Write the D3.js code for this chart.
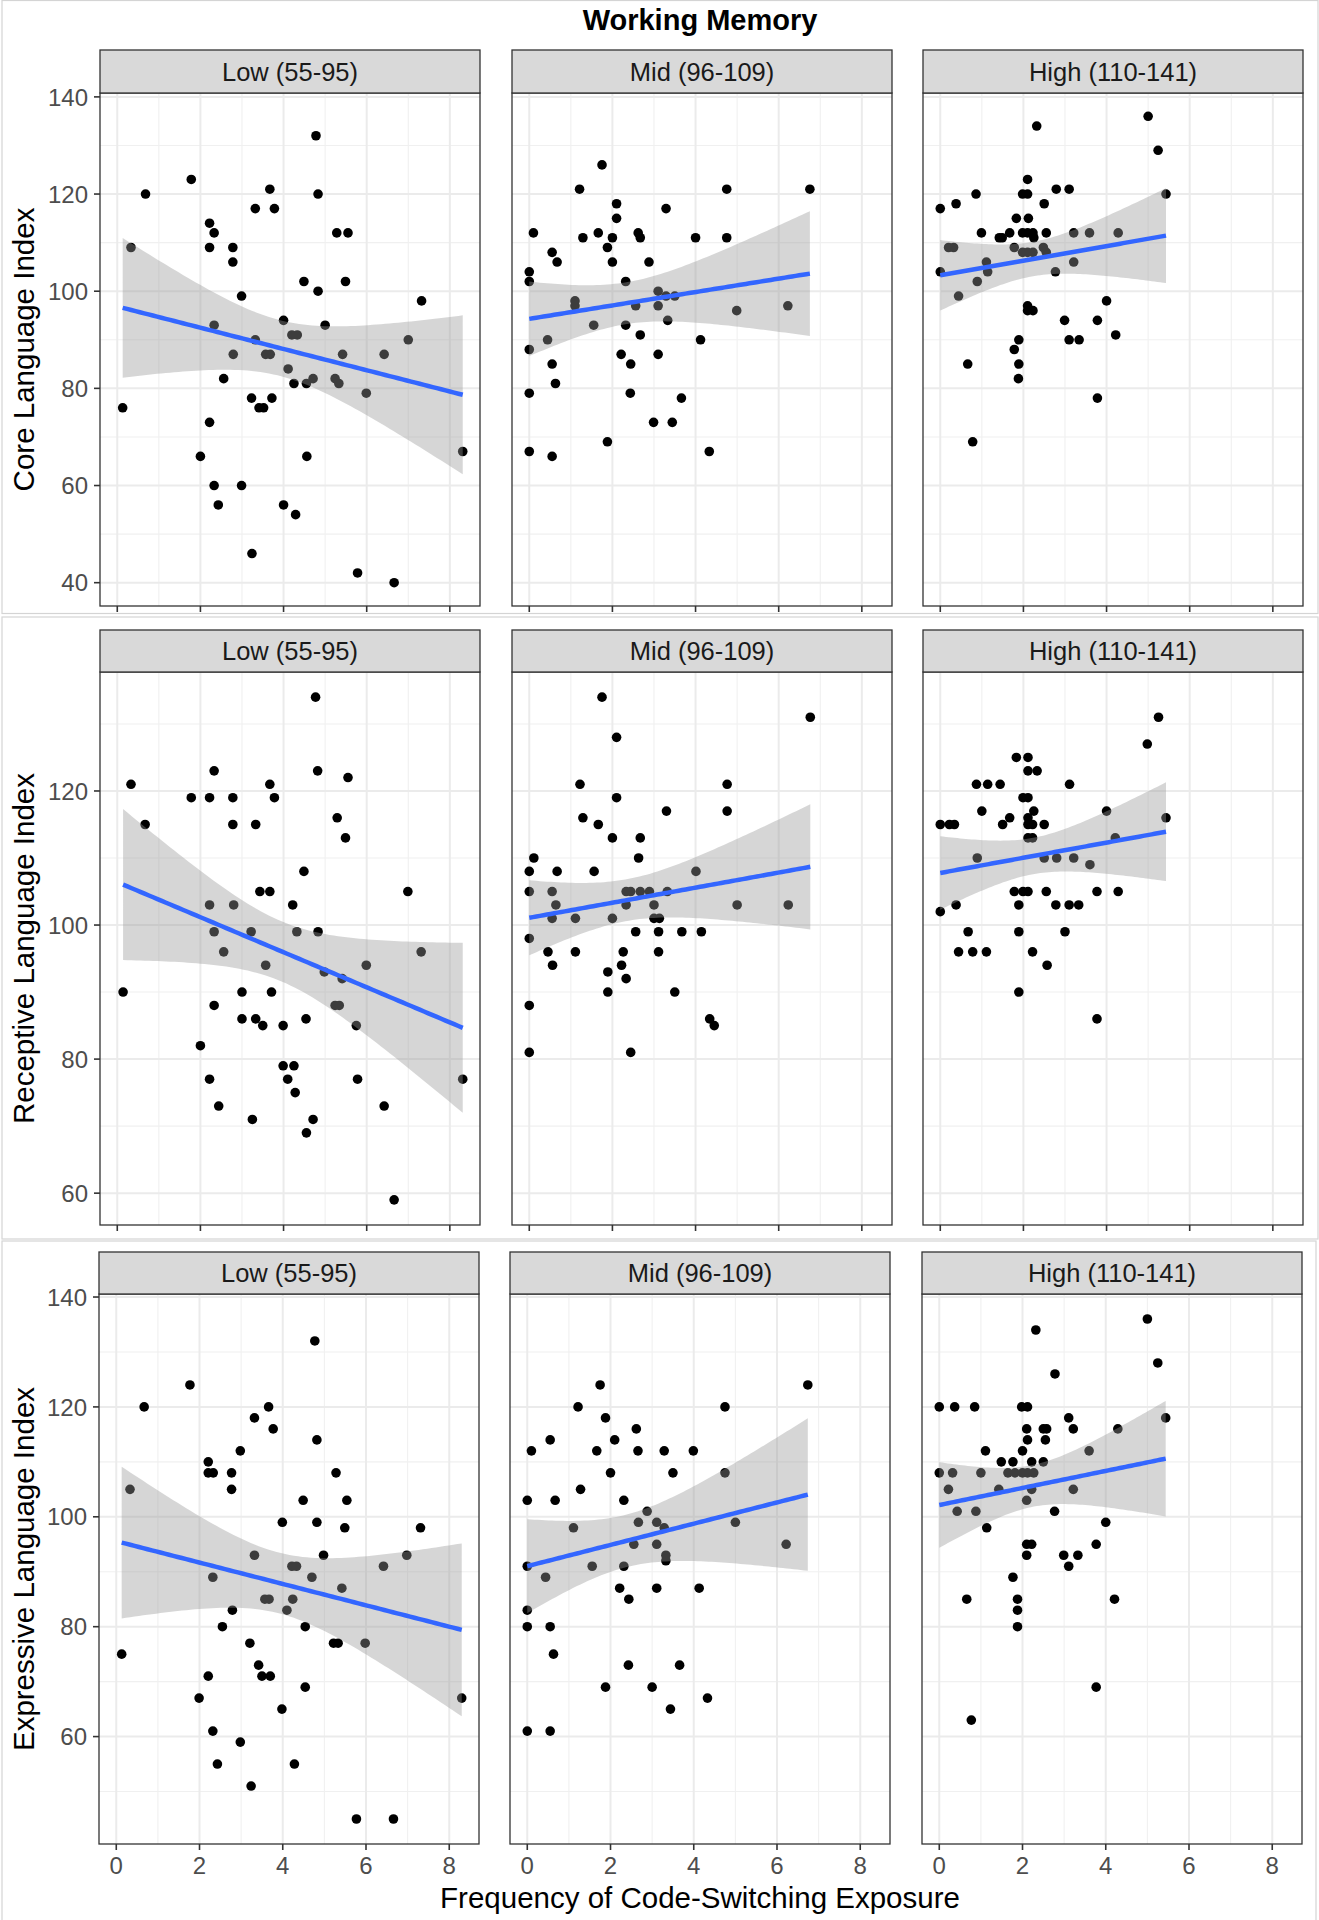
<!DOCTYPE html>
<html><head><meta charset="utf-8">
<script src="https://cdn.jsdelivr.net/npm/d3@7"></script>
<style>body{margin:0;background:#fff}</style>
</head><body><svg id="chart" width="1319" height="1920"></svg>
<script>
// ---------- categories / labels ----------
const groups = ["Low (55-95)", "Mid (96-109)", "High (110-141)"];
const outcomes = ["Core Language Index", "Receptive Language Index", "Expressive Language Index"];
const chartTitle = "Working Memory";
const xAxisTitle = "Frequency of Code-Switching Exposure";
const xTicks = [0, 2, 4, 6, 8];
const yTicksCore = [40, 60, 80, 100, 120, 140];
const yTicksReceptive = [60, 80, 100, 120];
const yTicksExpressive = [60, 80, 100, 120, 140];

// ---------- Core Language Index ----------
const coreLowX = [0.13,0.33,0.68,1.78,2.22,2.33,2.22,2.33,2.78,2.78,2.79,2.99,2.56,2.22,2.0,2.33,2.43,2.99,3.24,3.32,3.67,3.78,3.32,3.23,3.41,3.52,3.72,3.57,3.68,4.0,4.11,4.2,4.33,4.25,4.0,4.29,4.49,4.78,4.83,4.83,5.0,4.55,4.71,4.56,5.28,5.55,5.49,5.42,5.24,5.33,5.99,5.78,6.42,6.66,7.0,7.32,8.31];
const coreLowY = [76,109,120,123,114,112,109,93,109,106,87,99,82,73,66,60,56,60,46,117,121,117,90,78,76,76,78,87,87,94,84,91,91,81,56,54,102,132,120,100,93,81,82,66,112,112,102,87,82,81,79,42,87,40,90,98,67];
const coreMidX = [1.75,1.21,4.75,6.75,2.10,3.29,2.10,0.1,1.29,1.66,2.0,2.62,2.67,4.0,4.75,1.88,0.55,0.67,2.0,2.88,0,0,2.32,3.1,3.29,3.5,1.1,1.1,2.56,3.1,4.99,6.22,1.55,2.32,3.33,2.67,0.44,4.12,0,2.21,3.1,0.55,2.44,0.63,0,2.43,3.66,2.99,3.44,1.88,0,0.55,4.33];
const coreMidY = [126,121,121,121,118,117,115,112,111,112,111,112,111,111,111,109,108,106,106,106,104,102,102,100,99,99,98,97,97,97,96,97,93,93,94,91,90,90,88,87,87,85,85,81,79,79,78,73,73,69,67,66,67];
const coreHighX = [5.0,2.32,5.24,2.1,2.79,3.1,0.86,1.98,2.1,5.43,0.38,2.5,0,1.83,2.12,0.99,1.67,1.98,2.1,2.23,2.55,3.21,3.59,4.28,1.42,1.49,2.25,0.2,0.32,1.78,2.48,1.98,2.1,2.23,2.55,1.11,3.21,0,1.14,2.77,0.89,0.44,4.0,2.1,2.1,2.23,2.99,3.78,4.22,1.89,3.1,3.34,1.78,0.66,1.89,1.88,3.78,0.78];
const coreHighY = [136,134,129,123,121,121,120,120,120,120,118,118,117,115,115,112,112,112,112,112,112,112,112,112,111,111,111,109,109,109,109,108,108,108,108,106,106,104,104,104,102,99,98,97,96,96,94,94,91,90,90,90,88,85,85,82,78,69];

// ---------- Receptive Language Index ----------
const recLowX = [4.77,2.33,4.82,0.33,3.67,5.55,1.78,2.22,2.78,3.78,0.67,2.78,3.33,5.29,5.49,4.49,3.43,3.67,6.99,2.22,2.8,4.22,2.33,3.22,4.32,4.83,2.56,7.31,3.57,5.99,4.98,5.41,0.14,3.0,3.71,2.33,5.24,5.34,3.0,3.33,4.54,3.5,3.99,5.75,2.0,2.22,3.99,4.25,4.1,5.78,8.31,4.28,2.44,6.42,3.25,4.71,4.55,6.66];
const recLowY = [134,123,123,121,121,122,119,119,119,119,115,115,115,116,113,108,105,105,105,103,103,103,99,99,99,99,96,96,94,94,93,92,90,90,90,88,88,88,86,86,86,85,85,85,82,77,79,79,77,77,77,75,73,73,71,71,69,59];
const recMidX = [1.75,6.76,2.1,1.22,4.76,2.1,1.29,1.66,3.3,4.76,2.0,2.67,0.11,2.63,0,0.67,1.56,4.01,0,0.55,2.33,2.44,2.67,2.89,3.32,0.64,2.33,3.0,5.0,6.23,0.55,1.11,2.0,3.0,3.13,0,2.56,3.11,3.67,4.14,0.45,1.11,2.26,3.11,0.56,2.22,1.89,2.33,1.89,3.5,0,4.34,4.45,0,2.44];
const recMidY = [134,131,128,121,121,119,116,115,117,117,113,113,110,110,108,108,108,108,105,105,105,105,105,105,105,103,103,103,103,103,101,101,101,101,101,98,99,99,99,99,96,96,96,96,94,94,93,92,90,90,88,86,85,81,81];
const recHighX = [5.25,4.98,1.83,2.11,2.11,2.33,0.87,1.14,1.44,3.11,1.99,2.11,1.0,2.25,4.0,1.67,2.11,5.43,0,0.22,0.34,1.5,2.11,2.22,2.5,2.11,2.22,4.21,0.89,2.5,2.8,3.21,3.6,1.78,1.99,2.11,2.55,3.77,4.28,0.38,1.89,2.78,3.1,3.33,0,0.67,1.89,3.0,0.44,0.78,1.11,2.22,2.57,1.89,3.77];
const recHighY = [131,127,125,125,123,123,121,121,121,121,119,119,117,117,117,116,116,116,115,115,115,115,115,115,115,113,113,113,110,110,110,110,109,105,105,105,105,105,105,103,103,103,103,103,102,99,99,99,96,96,96,96,94,90,86];

// ---------- Expressive Language Index ----------
const expLowX = [4.77,1.77,0.67,3.66,3.32,3.77,4.82,2.98,2.21,2.21,2.33,2.77,5.28,0.33,2.77,4.49,5.54,3.99,4.82,5.49,7.31,3.32,4.98,6.98,4.22,4.33,6.42,2.32,4.7,5.42,3.57,3.67,4.24,2.79,4.1,2.55,4.54,3.21,5.22,5.33,5.98,0.13,3.42,3.5,3.7,2.21,4.54,1.99,8.3,3.98,2.32,2.98,2.43,4.28,3.24,5.77,6.66];
const expLowY = [132,124,120,120,118,116,114,112,110,108,108,108,108,105,105,103,103,99,99,98,98,93,93,93,91,91,91,89,89,87,85,85,85,83,83,80,80,77,77,77,77,75,73,71,71,71,69,67,67,65,61,59,55,55,51,45,45];
const expMidX = [1.75,6.74,1.22,4.75,1.88,2.62,0.55,2.1,0.1,1.67,2.66,3.29,3.99,2.0,3.5,4.75,1.28,0,0.67,2.32,2.88,2.67,3.11,5.0,1.11,3.29,2.56,3.11,6.22,3.33,3.33,0,1.56,2.32,0.44,2.22,3.11,4.13,2.44,0,0,0.55,0.63,2.43,3.66,1.88,3.0,4.33,3.44,0,0.55];
const expMidY = [124,124,120,120,118,116,114,114,112,112,112,112,112,108,108,108,105,103,103,103,101,99,99,99,98,98,95,95,95,93,92,91,91,91,89,87,87,87,85,83,80,80,75,73,73,69,69,67,65,61,61];
const expHighX = [5.0,2.32,5.25,2.78,0,0.37,0.85,1.98,2.12,3.11,5.44,2.1,2.5,2.58,3.22,4.29,2.12,2.55,1.11,2.0,3.6,1.49,1.77,2.22,2.5,0,0.32,1.0,1.65,1.82,2.0,2.12,2.27,0.22,1.43,2.22,3.22,2.1,0.43,0.88,2.77,4.0,1.14,2.1,2.22,3.77,2.1,2.99,3.33,3.11,1.77,0.66,1.88,4.21,1.88,1.88,3.77,0.77];
const expHighY = [136,134,128,126,120,120,120,120,120,118,118,116,116,116,116,116,114,114,112,112,112,110,110,110,110,108,108,108,108,108,108,108,108,105,105,105,105,103,101,101,101,99,98,95,95,95,93,93,93,91,89,85,85,85,83,80,69,63];

// ---------- assemble ----------
const rowsData = [
  { title: outcomes[0], yTicks: yTicksCore, sets: [[coreLowX, coreLowY], [coreMidX, coreMidY], [coreHighX, coreHighY]] },
  { title: outcomes[1], yTicks: yTicksReceptive, sets: [[recLowX, recLowY], [recMidX, recMidY], [recHighX, recHighY]] },
  { title: outcomes[2], yTicks: yTicksExpressive, sets: [[expLowX, expLowY], [expMidX, expMidY], [expHighX, expHighY]] }
];

// ---------- layout ----------
const FONT = "'Liberation Sans', Arial, Helvetica, sans-serif";
const rowsLayout = [
  { frame: [2, 0.5, 1316, 613], stripTop: 50, panelTop: 93, panelBottom: 606, lefts: [100, 512, 923], width: 380, xLabels: false },
  { frame: [2, 617, 1316, 622], stripTop: 630, panelTop: 672, panelBottom: 1225, lefts: [100, 512, 923], width: 380, xLabels: false },
  { frame: [2, 1241, 1314, 690], stripTop: 1252, panelTop: 1294, panelBottom: 1844, lefts: [99, 510, 922], width: 380, xLabels: true }
];

const svg = d3.select("#chart");
svg.append("rect").attr("width", 1319).attr("height", 1920).attr("fill", "#fff");

function tq975(df) {
  const z = 1.959964;
  const g1 = (Math.pow(z, 3) + z) / 4;
  const g2 = (5 * Math.pow(z, 5) + 16 * Math.pow(z, 3) + 3 * z) / 96;
  const g3 = (3 * Math.pow(z, 7) + 19 * Math.pow(z, 5) + 17 * Math.pow(z, 3) - 15 * z) / 384;
  return z + g1 / df + g2 / (df * df) + g3 / (df * df * df);
}

function lmFit(xs, ys) {
  const n = xs.length;
  const mx = d3.mean(xs), my = d3.mean(ys);
  let sxx = 0, sxy = 0;
  for (let i = 0; i < n; i++) { sxx += (xs[i] - mx) ** 2; sxy += (xs[i] - mx) * (ys[i] - my); }
  const b = sxy / sxx, a = my - b * mx;
  let sse = 0;
  for (let i = 0; i < n; i++) sse += (ys[i] - a - b * xs[i]) ** 2;
  const s2 = sse / (n - 2);
  const t = tq975(n - 2);
  const [x0, x1] = d3.extent(xs);
  return d3.range(80).map(i => {
    const x = x0 + (x1 - x0) * i / 79;
    const fit = a + b * x;
    const se = Math.sqrt(s2 * (1 / n + (x - mx) ** 2 / sxx));
    return { x, fit, lo: fit - t * se, hi: fit + t * se };
  });
}

function expand(ext) {
  const r = ext[1] - ext[0];
  return [ext[0] - 0.05 * r, ext[1] + 0.05 * r];
}

// Title
svg.append("text").attr("x", 700).attr("y", 30).attr("text-anchor", "middle")
  .attr("font-family", FONT).attr("font-weight", "bold").attr("font-size", 29)
  .attr("fill", "#000").text(chartTitle);

rowsData.forEach((row, ri) => {
  const L = rowsLayout[ri];
  svg.append("rect").attr("x", L.frame[0]).attr("y", L.frame[1]).attr("width", L.frame[2]).attr("height", L.frame[3])
    .attr("fill", "none").attr("stroke", "#d4d4d4").attr("stroke-width", 1.2);

  const allX = row.sets.flatMap(s => s[0]);
  const allY = row.sets.flatMap(s => s[1]);
  const xDom = expand(d3.extent(allX));
  const yDom = expand(d3.extent(allY));
  const y = d3.scaleLinear().domain(yDom).range([L.panelBottom, L.panelTop]);
  const yStep = row.yTicks[1] - row.yTicks[0];
  const yMinor = d3.range(row.yTicks.length + 1).map(i => row.yTicks[0] - yStep / 2 + i * yStep).filter(v => v > yDom[0] && v < yDom[1]);
  const xStep = xTicks[1] - xTicks[0];
  const xMinor = d3.range(xTicks.length + 1).map(i => xTicks[0] - xStep / 2 + i * xStep).filter(v => v > xDom[0] && v < xDom[1]);

  const yc = (L.panelTop + L.panelBottom) / 2;
  svg.append("text").attr("transform", `translate(34,${yc}) rotate(-90)`)
    .attr("text-anchor", "middle").attr("font-family", FONT).attr("font-size", 29.5)
    .attr("fill", "#000").text(row.title);

  row.sets.forEach((set, gi) => {
    const [xs, ys] = set;
    const left = L.lefts[gi];
    const x = d3.scaleLinear().domain(xDom).range([left, left + L.width]);
    const g = svg.append("g");
    const ph = L.panelBottom - L.panelTop;

    g.append("rect").attr("x", left).attr("y", L.panelTop).attr("width", L.width).attr("height", ph).attr("fill", "#fff");
    g.selectAll(".ymin").data(yMinor).enter().append("line")
      .attr("x1", left).attr("x2", left + L.width).attr("y1", d => y(d)).attr("y2", d => y(d))
      .attr("stroke", "#f0f0f0").attr("stroke-width", 1.1);
    g.selectAll(".xmin").data(xMinor).enter().append("line")
      .attr("y1", L.panelTop).attr("y2", L.panelBottom).attr("x1", d => x(d)).attr("x2", d => x(d))
      .attr("stroke", "#f0f0f0").attr("stroke-width", 1.1);
    g.selectAll(".ymaj").data(row.yTicks).enter().append("line")
      .attr("x1", left).attr("x2", left + L.width).attr("y1", d => y(d)).attr("y2", d => y(d))
      .attr("stroke", "#ebebeb").attr("stroke-width", 2);
    g.selectAll(".xmaj").data(xTicks).enter().append("line")
      .attr("y1", L.panelTop).attr("y2", L.panelBottom).attr("x1", d => x(d)).attr("x2", d => x(d))
      .attr("stroke", "#ebebeb").attr("stroke-width", 2);

    g.selectAll(".pt").data(xs.map((v, i) => [v, ys[i]])).enter().append("circle")
      .attr("cx", d => x(d[0])).attr("cy", d => y(d[1])).attr("r", 4.8).attr("fill", "#000");

    const fit = lmFit(xs, ys);
    g.append("path").datum(fit)
      .attr("d", d3.area().x(d => x(d.x)).y0(d => y(d.lo)).y1(d => y(d.hi)))
      .attr("fill", "#999999").attr("fill-opacity", 0.4);
    g.append("path").datum(fit)
      .attr("d", d3.line().x(d => x(d.x)).y(d => y(d.fit)))
      .attr("fill", "none").attr("stroke", "#3366FF").attr("stroke-width", 4.5);

    g.append("rect").attr("x", left).attr("y", L.panelTop).attr("width", L.width).attr("height", ph)
      .attr("fill", "none").attr("stroke", "#333333").attr("stroke-width", 1.3);

    g.append("rect").attr("x", left).attr("y", L.stripTop).attr("width", L.width).attr("height", L.panelTop - L.stripTop)
      .attr("fill", "#d9d9d9").attr("stroke", "#333333").attr("stroke-width", 1.3);
    g.append("text").attr("x", left + L.width / 2).attr("y", (L.stripTop + L.panelTop) / 2).attr("dy", "0.36em")
      .attr("text-anchor", "middle").attr("font-family", FONT).attr("font-size", 25.5).attr("fill", "#1a1a1a")
      .text(groups[gi]);

    g.selectAll(".xt").data(xTicks).enter().append("line")
      .attr("x1", d => x(d)).attr("x2", d => x(d)).attr("y1", L.panelBottom).attr("y2", L.panelBottom + 6)
      .attr("stroke", "#333333").attr("stroke-width", 1.6);
    if (L.xLabels) {
      g.selectAll(".xl").data(xTicks).enter().append("text")
        .attr("x", d => x(d)).attr("y", L.panelBottom + 30).attr("text-anchor", "middle")
        .attr("font-family", FONT).attr("font-size", 24).attr("fill", "#4d4d4d").text(d => d);
    }

    if (gi === 0) {
      g.selectAll(".yt").data(row.yTicks).enter().append("line")
        .attr("x1", left - 6).attr("x2", left).attr("y1", d => y(d)).attr("y2", d => y(d))
        .attr("stroke", "#333333").attr("stroke-width", 1.6);
      g.selectAll(".yl").data(row.yTicks).enter().append("text")
        .attr("x", left - 12).attr("y", d => y(d)).attr("dy", "0.36em").attr("text-anchor", "end")
        .attr("font-family", FONT).attr("font-size", 24).attr("fill", "#4d4d4d").text(d => d);
    }
  });
});

svg.append("text").attr("x", 700).attr("y", 1908).attr("text-anchor", "middle")
  .attr("font-family", FONT).attr("font-size", 29.5).attr("fill", "#000").text(xAxisTitle);
</script>
</body></html>
